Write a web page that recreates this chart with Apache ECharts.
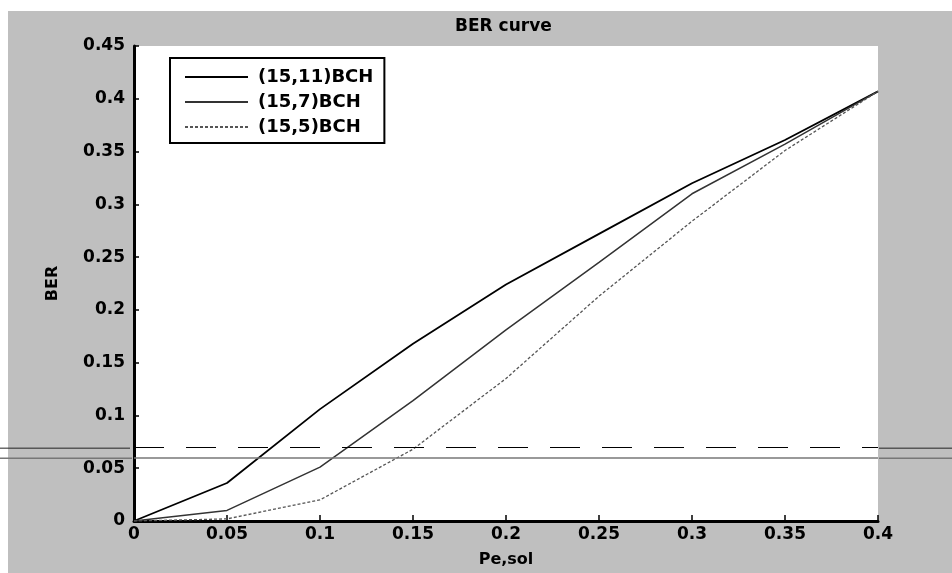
<!DOCTYPE html>
<html><head><meta charset="utf-8">
<script src="https://cdn.jsdelivr.net/npm/echarts@6/dist/echarts.min.js"></script>
<style>html,body{margin:0;padding:0;background:#fff}#c{width:952px;height:573px}</style>
</head><body><div id="c"></div>
<script>
// ---- data ----
const pe = [0, 0.05, 0.1, 0.15, 0.2, 0.25, 0.3, 0.35, 0.4];
const ber_15_11 = [0, 0.036, 0.106, 0.168, 0.224, 0.272, 0.320, 0.361, 0.407];
const ber_15_7  = [0, 0.010, 0.051, 0.114, 0.181, 0.245, 0.310, 0.357, 0.407];
const ber_15_5  = [0, 0.002, 0.020, 0.068, 0.135, 0.213, 0.284, 0.351, 0.407];
const seriesNames = ['(15,11)BCH', '(15,7)BCH', '(15,5)BCH'];
const xTicks = [0, 0.05, 0.1, 0.15, 0.2, 0.25, 0.3, 0.35, 0.4];
const yTicks = [0, 0.05, 0.1, 0.15, 0.2, 0.25, 0.3, 0.35, 0.4, 0.45];
// horizontal scan artefacts crossing the figure (BER levels)
const scanSolidLevel = 0.0595;
const scanDashLevel = 0.069;

const FONT = 'DejaVu Sans';
function pairs(ys) { return pe.map((x, i) => [x, ys[i]]); }

const chart = echarts.init(document.getElementById('c'), null, {renderer: 'canvas'});
chart.setOption({
  backgroundColor: '#bfbfbf',
  animation: false,
  title: {
    text: 'BER curve', left: 450, top: 13,
    textStyle: {fontFamily: FONT, fontWeight: 'bold', fontSize: 17, color: '#000'}
  },
  grid: {left: 134, right: 74, top: 46, bottom: 52, show: true,
         backgroundColor: '#ffffff', borderWidth: 0},
  legend: {
    orient: 'vertical', left: 170, top: 58,
    backgroundColor: '#ffffff', borderColor: '#000', borderWidth: 2,
    padding: [10, 11, 7, 14], itemGap: 7, itemWidth: 63, itemHeight: 16,
    itemStyle: {opacity: 0},
    textStyle: {fontFamily: FONT, fontWeight: 'bold', fontSize: 18, lineHeight: 16,
                color: '#000', padding: [0, 0, 0, 5]},
    data: seriesNames
  },
  xAxis: {
    type: 'value', min: 0, max: 0.4, interval: 0.05,
    name: 'Pe,sol', nameLocation: 'middle', nameGap: 31,
    nameTextStyle: {fontFamily: FONT, fontWeight: 'bold', fontSize: 16, color: '#000'},
    axisLine: {show: true, onZero: false, lineStyle: {color: '#000', width: 3}},
    axisTick: {show: true, inside: true, length: 6, lineStyle: {color: '#000', width: 1.5}},
    axisLabel: {margin: 5, fontFamily: FONT, fontWeight: 'bold', fontSize: 17, color: '#000',
      formatter: v => String(xTicks.find(t => Math.abs(t - v) < 1e-9) ?? v)},
    splitLine: {show: false}
  },
  yAxis: {
    type: 'value', min: 0, max: 0.45, interval: 0.05,
    name: 'BER', nameLocation: 'middle', nameGap: 73, nameRotate: 90,
    nameTextStyle: {fontFamily: FONT, fontWeight: 'bold', fontSize: 16, color: '#000'},
    axisLine: {show: true, onZero: false, lineStyle: {color: '#000', width: 3}},
    axisTick: {show: true, inside: true, length: 5, lineStyle: {color: '#000', width: 1.5}},
    axisLabel: {margin: 9, fontFamily: FONT, fontWeight: 'bold', fontSize: 17, color: '#000',
      formatter: v => String(yTicks.find(t => Math.abs(t - v) < 1e-9) ?? v)},
    splitLine: {show: false}
  },
  series: [
    {name: seriesNames[0], type: 'line', data: pairs(ber_15_11), symbol: 'none',
     lineStyle: {color: '#000', width: 1.8}, itemStyle: {color: '#000'},
     markLine: {silent: true, symbol: 'none', label: {show: false},
       data: [
         {yAxis: scanSolidLevel, lineStyle: {color: '#777', width: 1.5, type: 'solid'}},
         {yAxis: scanDashLevel, lineStyle: {color: '#000', width: 1, type: [30, 22]}}
       ]}},
    {name: seriesNames[1], type: 'line', data: pairs(ber_15_7), symbol: 'none',
     lineStyle: {color: '#333', width: 1.5}, itemStyle: {color: '#333'}},
    {name: seriesNames[2], type: 'line', data: pairs(ber_15_5), symbol: 'none',
     lineStyle: {color: '#555', width: 1.3, type: [3, 2]}, itemStyle: {color: '#555'}}
  ]
});

// white scan border and the parts of the scan lines that run outside the plot
const ySolid = chart.convertToPixel({yAxisIndex: 0}, scanSolidLevel);
const yDash = chart.convertToPixel({yAxisIndex: 0}, scanDashLevel);
const x0 = chart.convertToPixel({xAxisIndex: 0}, 0);
const x1 = chart.convertToPixel({xAxisIndex: 0}, 0.4);
chart.setOption({
  graphic: [
    {type: 'rect', shape: {x: 0, y: 0, width: 952, height: 11}, style: {fill: '#fff'}, silent: true, z: -1},
    {type: 'rect', shape: {x: 0, y: 0, width: 8, height: 573}, style: {fill: '#fff'}, silent: true, z: -1},
    {type: 'line', shape: {x1: 0, y1: ySolid, x2: x0 - 2, y2: ySolid}, style: {stroke: '#777', lineWidth: 1.5}, silent: true},
    {type: 'line', shape: {x1: x1 + 1, y1: ySolid, x2: 952, y2: ySolid}, style: {stroke: '#777', lineWidth: 1.5}, silent: true},
    {type: 'line', shape: {x1: 0, y1: yDash, x2: x0 - 4, y2: yDash}, style: {stroke: '#222', lineWidth: 1}, silent: true},
    {type: 'line', shape: {x1: x1 + 1, y1: yDash, x2: 952, y2: yDash}, style: {stroke: '#222', lineWidth: 1}, silent: true}
  ]
});
</script>
</body></html>
